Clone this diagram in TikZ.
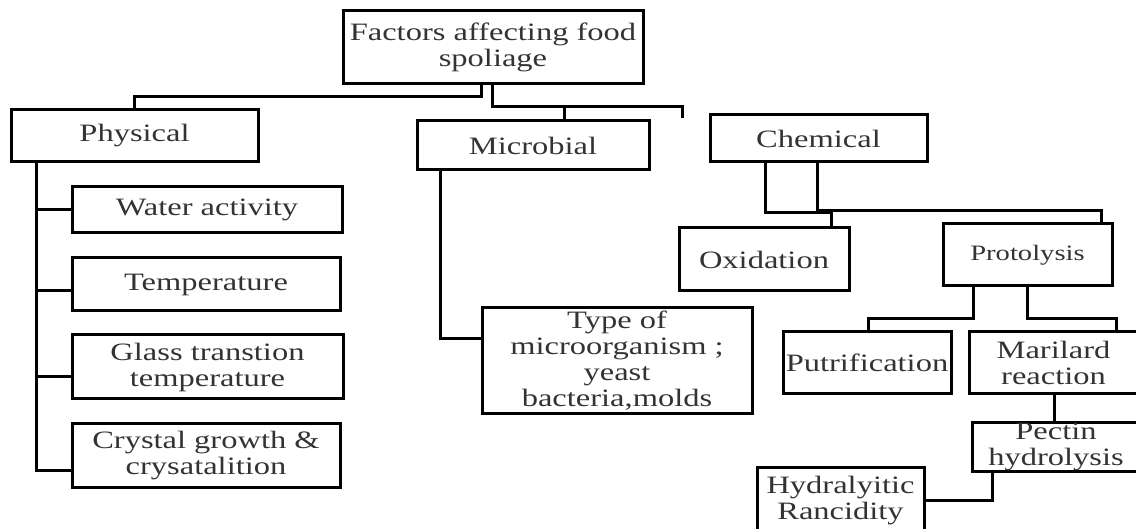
\documentclass[tikz,border=0pt]{standalone}
\usepackage{fontspec}
\setmainfont{Liberation Serif}[FakeStretch=1.3]
\tikzset{
  box/.style={draw, line width=3pt, align=center, inner sep=0pt, text=black!80,
    font=\fontsize{25}{26}\selectfont},
  link/.style={draw, line width=3pt}
}

\begin{document}
\begin{tikzpicture}[x=1pt, y=1pt]

    \useasboundingbox (0,0) rectangle (1136,-529);

    % Define nodes
    \node[box, minimum width=300, minimum height=73] (root)    at (493,-47.5)   {Factors affecting food\\spoliage};
    \node[box, minimum width=247, minimum height=52] (phys)    at (134.5,-136)  {Physical};
    \node[box, minimum width=232, minimum height=49] (micro)   at (533,-145.5)  {Microbial};
    \node[box, minimum width=217, minimum height=47] (chem)    at (818.5,-138.5) {Chemical};
    \coordinate (stub) at (682,-118);

    % physical factors
    \node[box, minimum width=270, minimum height=46] (water)   at (207,-210)    {Water activity};
    \node[box, minimum width=268, minimum height=53] (temp)    at (206,-284.5)  {Temperature};
    \node[box, minimum width=271, minimum height=64] (glass)   at (207.5,-367)  {Glass transtion\\temperature};
    \node[box, minimum width=268, minimum height=63] (crystal) at (206,-455.5)  {Crystal growth \&\\crysatalition};

    % microbial factors
    \node[box, minimum width=270, minimum height=106] (type)   at (617,-361)    {Type of\\microorganism ;\\yeast\\bacteria,molds};

    % chemical factors
    \node[box, minimum width=170, minimum height=63] (oxid)    at (764,-259.5)  {Oxidation};
    \node[box, minimum width=169, minimum height=62,
          font=\fontsize{22}{24}\selectfont]         (proto)   at (1027.5,-255) {Protolysis};
    \node[box, minimum width=168, minimum height=62] (putri)   at (867,-363)    {Putrification};
    \node[box, minimum width=169, minimum height=62] (maril)   at (1053.5,-363) {Marilard\\reaction};
    \node[box, minimum width=168, minimum height=48] (pectin)  at (1056,-447)   {Pectin\\hydrolysis};
    \node[box, minimum width=167, minimum height=67] (hydra)   at (840.5,-500.5) {Hydralyitic\\Rancidity};

    % Connect the nodes
    \draw[link] ([xshift=-12pt]root.south) |- ([yshift=12pt]phys.north) -- (phys.north);
    \draw[link] ([xshift=-1pt]root.south) |- ([yshift=11pt]stub) -- (stub);
    \draw[link] ([xshift=31pt]micro.north) -- ++(0,14);

    % physical trunk
    \coordinate (ptrunk) at ([xshift=-98.5pt]phys.south);
    \draw[link] (ptrunk) |- ([yshift=-15pt]crystal.west);
    \foreach \n/\d in {water/0,temp/-6,glass/-10}
      \draw[link] ([yshift=\d pt]\n.west) -- ([yshift=\d pt]\n.west -| ptrunk);

    % microbial trunk
    \draw[link] ([xshift=-93pt]micro.south) |- ([yshift=22pt]type.west);

    % chemical branches
    \draw[link] ([xshift=-53.5pt]chem.south) |- ([xshift=67pt,yshift=14pt]oxid.north) -- ([xshift=67pt]oxid.north);
    \draw[link] ([xshift=-1.5pt]chem.south) |- ([xshift=73.5pt,yshift=12pt]proto.north) -- ([xshift=73.5pt]proto.north);
    \draw[link] ([xshift=-54.5pt]proto.south) |- ([xshift=1pt,yshift=12pt]putri.north) -- ([xshift=1pt]putri.north);
    \draw[link] (proto.south) |- ([xshift=62.5pt,yshift=12pt]maril.north) -- ([xshift=62.5pt]maril.north);
    \draw[link] ([xshift=1pt]maril.south) -- ([xshift=1pt]maril.south |- pectin.north);
    \draw[link] ([xshift=-64pt]pectin.south) |- (hydra.east);

  \end{tikzpicture}
\end{document}
